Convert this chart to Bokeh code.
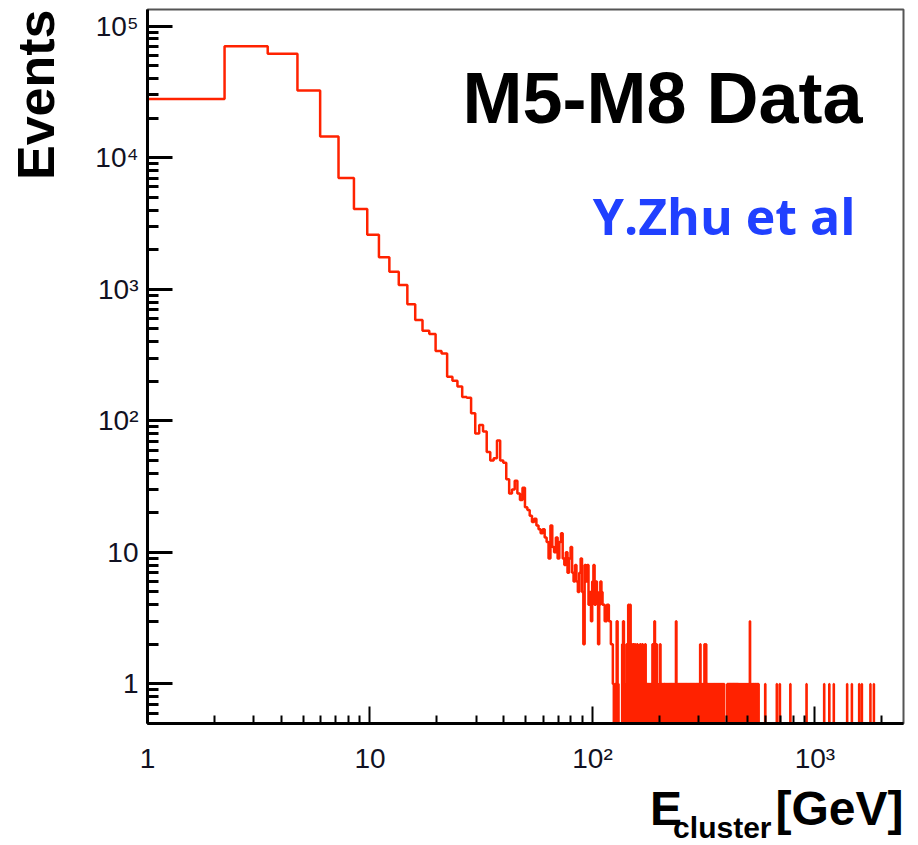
import numpy as np
from bokeh.plotting import figure
from bokeh.models import Label, Title, FixedTicker, CustomJSTickFormatter
from bokeh.embed import file_html
from bokeh.resources import INLINE

# ---------------- data ----------------
# uniform histogram binning: 2000 bins of 1.25 GeV
first_edge = 0.97
bin_width = 1.25
n_bins = 2000

# counts of the first 97 bins (E ~ 1 .. 122 GeV)
counts_low = [28000, 70500, 61700, 32400, 14500, 7020, 4070, 2600, 1750, 1360,
              1080, 770, 585, 484, 457, 340, 325, 216, 202, 182,
              152, 150, 114, 80, 93, 83, 58, 50, 52, 71,
              50, 48, 36, 28, 30, 35, 28, 25, 31, 22,
              21, 19, 17, 18, 16, 15, 14, 15, 13, 12,
              9, 16, 11, 10, 13, 9, 12, 14, 9, 8,
              10, 7, 9, 11, 7, 6, 8, 6, 5, 7,
              9, 5, 2, 8, 6, 8, 4, 5, 3, 6,
              8, 4, 6, 5, 2, 4, 6, 5, 4, 4,
              3, 3, 4, 4, 3, 3, 2]

# low-statistics region: (first bin index, per-bin counts as digits)
tail_segments = [
    (97,  "21010310000230012041402"),
    (120, "12021020102102010210"),
    (140, "10101010202301201000"),
    (160, "210101011010101010101010101013010101"),
    (196, "010101010101010101010101010101010101010101010"),
    (241, "0120100100100201020101"),
    (263, "1001001001001001001001001001001001001001001001001"),
    (312, "0000000000"),
    (322, "101010101010101010101010101010101010101"),
    (361, "1000100010001000100010001000100010001000100010"),
    (407, "30001000"),
    (415, "1001001001001001001001001001001"),
]

# isolated high-energy entries (GeV, events)
far_E = [598, 674, 695, 775, 916, 1100, 1160, 1215, 1395, 1465, 1580, 1625, 1775, 1840]
far_n = [1, 1, 1, 1, 1, 1, 1, 1, 1, 1, 1, 1, 1, 1]

x_range = (1, 2500)
y_range = (0.5, 1.34e5)
x_major = [1, 10, 100, 1000]
y_major = [1, 10, 100, 1000, 10000, 100000]

# ---------------- build histogram ----------------
counts = np.zeros(n_bins)
counts[:len(counts_low)] = counts_low
for start, digits in tail_segments:
    for i, ch in enumerate(digits):
        counts[start + i] = int(ch)
for e, n in zip(far_E, far_n):
    k = int((e - first_edge) / bin_width)
    counts[k] += n

edges = first_edge + bin_width * np.arange(n_bins + 1)
xs = np.repeat(edges, 2)[1:-1]
ys = np.repeat(counts, 2).astype(float)
ys[ys <= 0] = 1e-3  # empty bins drop below the frame (log axis)

# ---------------- figure ----------------
p = figure(width=907, height=845, x_axis_type="log", y_axis_type="log",
           x_range=x_range, y_range=y_range,
           output_backend="svg", toolbar_location=None,
           min_border_left=147, min_border_right=4,
           min_border_top=9, min_border_bottom=122)
p.background_fill_color = "white"
p.border_fill_color = "white"
p.outline_line_color = "#555555"
p.outline_line_width = 2
p.grid.visible = False

p.line(xs, ys, line_color="#ff2200", line_width=2.5)

fmt = CustomJSTickFormatter(code="""
const e = Math.round(Math.log10(tick));
const s = ['\u2070','\u00b9','\u00b2','\u00b3','\u2074','\u2075','\u2076'];
if (e === 0) return '1';
if (e === 1) return '10';
return '10' + s[e];
""")

tick_font = "'Liberation Sans Narrow', 'Liberation Sans', sans-serif"
bold = "'Liberation Sans', Arial, sans-serif"
NB = "\u00a0"

xa = p.xaxis[0]
xa.ticker = FixedTicker(ticks=x_major,
                        minor_ticks=[m * 10 ** d for d in range(0, 4) for m in range(2, 10)])
xa.formatter = fmt
xa.axis_line_width = 3
xa.axis_line_color = "black"
xa.major_tick_in = 17
xa.major_tick_out = 0
xa.minor_tick_in = 8
xa.minor_tick_out = 0
xa.major_tick_line_width = 2
xa.minor_tick_line_width = 2
xa.major_label_standoff = 19
xa.major_label_text_font = tick_font
xa.major_label_text_font_size = "28px"
xa.major_label_text_color = "#111122"

ya = p.yaxis[0]
ya.ticker = FixedTicker(ticks=y_major,
                        minor_ticks=[m * 10 ** d for d in range(-1, 6) for m in range(2, 10)])
ya.formatter = fmt
ya.axis_line_width = 3
ya.axis_line_color = "black"
ya.major_tick_in = 25
ya.major_tick_out = 0
ya.minor_tick_in = 11
ya.minor_tick_out = 0
ya.major_tick_line_width = 3
ya.minor_tick_line_width = 3
ya.major_label_standoff = 9
ya.major_label_text_font = tick_font
ya.major_label_text_font_size = "28px"
ya.major_label_text_color = "#111122"
# blank spacer between tick labels and the axis title
ya.axis_label = NB
ya.axis_label_text_font_size = "10px"
ya.axis_label_standoff = 14

# y-axis title, at the top of the left side
p.add_layout(Title(text="Events", align="right", offset=0, standoff=0,
                   text_font=bold, text_font_style="bold",
                   text_font_size="52px", text_color="black"), "left")

# x-axis title E_cluster [GeV], at the right below the axis
p.add_layout(Title(text="E" + NB * 7 + "[GeV]", align="right", offset=0, standoff=7,
                   text_font=bold, text_font_style="bold",
                   text_font_size="48px", text_color="black"), "below")
p.add_layout(Title(text="cluster", align="right", offset=132, standoff=-56,
                   vertical_align="top",
                   text_font=bold, text_font_style="bold",
                   text_font_size="30px", text_color="black"), "below")

p.add_layout(Label(x=715, y=626, x_units="screen", y_units="screen",
                   text="M5-M8 Data", text_align="right", text_baseline="alphabetic",
                   text_font=bold, text_font_style="bold",
                   text_font_size="72px", text_color="black"))
p.add_layout(Label(x=708, y=508, x_units="screen", y_units="screen",
                   text="Y.Zhu et al", text_align="right", text_baseline="alphabetic",
                   text_font="Open Sans", text_font_style="bold",
                   text_font_size="50px", text_color="#2040ff"))

open("out.html", "w").write(file_html(p, INLINE))
